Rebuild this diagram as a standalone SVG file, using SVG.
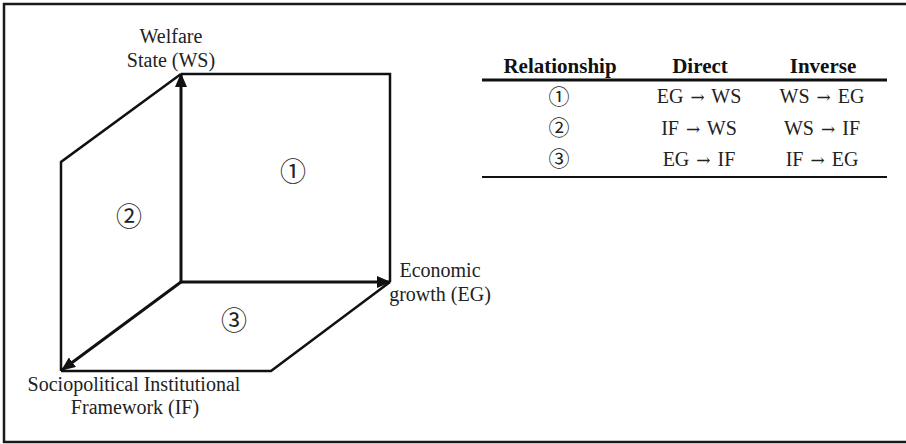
<svg xmlns="http://www.w3.org/2000/svg" width="906" height="444" viewBox="0 0 906 444">
  <defs>
    <marker id="head" viewBox="0 0 14 12" refX="13" refY="6" markerWidth="14" markerHeight="12" markerUnits="userSpaceOnUse" orient="auto">
      <path d="M0,0 L14,6 L0,12 Z" fill="#111"/>
    </marker>
    <style>
      .edge { fill: none; stroke: #111; stroke-width: 2.5; stroke-linejoin: miter; }
      .axis { fill: none; stroke: #111; stroke-width: 3; marker-end: url(#head); }
      text { font-family: "Liberation Serif", "DejaVu Serif", serif; fill: #222; }
      .lbl { font-size: 20px; }
      .num { font-family: "Noto Sans CJK JP", "DejaVu Sans", sans-serif; text-anchor: middle; }
      .hdr { font-size: 21px; font-weight: bold; fill: #111; text-anchor: middle; }
      .cell { font-size: 20px; text-anchor: middle; }
      .arr { font-family: "DejaVu Serif", serif; font-size: 17px; }
      .rule { stroke: #111; }
    </style>
  </defs>

  <rect width="906" height="444" fill="#fff"/>
  <!-- frame (open on the right) -->
  <path d="M910,4 H4 V442 H910" fill="none" stroke="#1a1a1a" stroke-width="2.5"/>

  <!-- cube faces -->
  <g id="faces">
    <!-- face 1: WS / EG plane -->
    <polyline class="edge" points="181,74 390,74 390,282"/>
    <!-- face 2: WS / IF plane -->
    <polyline class="edge" points="181,74 61,162 61,371"/>
    <!-- face 3: EG / IF plane -->
    <polyline class="edge" points="390,282 271,371 61,371"/>
  </g>

  <!-- axes from the origin -->
  <g id="connectors">
    <line class="axis" x1="181" y1="282" x2="181" y2="74"/>
    <line class="axis" x1="181" y1="282" x2="390" y2="282"/>
    <line class="axis" x1="181" y1="282" x2="62" y2="370"/>
  </g>

  <g id="node-ws">
    <text class="lbl" x="171" y="43" text-anchor="middle">Welfare</text>
    <text class="lbl" x="171" y="67" text-anchor="middle">State (WS)</text>
  </g>
  <g id="node-eg">
    <text class="lbl" x="440" y="277" text-anchor="middle">Economic</text>
    <text class="lbl" x="440" y="301" text-anchor="middle">growth (EG)</text>
  </g>
  <g id="node-if">
    <text class="lbl" x="134" y="391" text-anchor="middle">Sociopolitical Institutional</text>
    <text class="lbl" x="135" y="414" text-anchor="middle">Framework (IF)</text>
  </g>

  <g id="face-labels">
    <text class="num" x="293" y="181" font-size="26">①</text>
    <text class="num" x="129" y="226" font-size="26">②</text>
    <text class="num" x="234" y="330" font-size="26">③</text>
  </g>

  <!-- relationship table -->
  <g id="table">
    <text class="hdr" x="560" y="73">Relationship</text>
    <text class="hdr" x="700" y="73">Direct</text>
    <text class="hdr" x="823" y="73">Inverse</text>
    <line class="rule" x1="482" y1="80" x2="887" y2="80" stroke-width="3"/>

    <text class="num" x="559" y="104" font-size="21">①</text>
    <text class="cell" x="699" y="103">EG <tspan class="arr" dx="2">→</tspan><tspan dx="2"> WS</tspan></text>
    <text class="cell" x="822" y="103">WS <tspan class="arr" dx="2">→</tspan><tspan dx="2"> EG</tspan></text>

    <text class="num" x="559" y="135" font-size="21">②</text>
    <text class="cell" x="699" y="135">IF <tspan class="arr" dx="2">→</tspan><tspan dx="2"> WS</tspan></text>
    <text class="cell" x="822" y="135">WS <tspan class="arr" dx="2">→</tspan><tspan dx="2"> IF</tspan></text>

    <text class="num" x="559" y="166" font-size="21">③</text>
    <text class="cell" x="699" y="166">EG <tspan class="arr" dx="2">→</tspan><tspan dx="2"> IF</tspan></text>
    <text class="cell" x="822" y="166">IF <tspan class="arr" dx="2">→</tspan><tspan dx="2"> EG</tspan></text>

    <line class="rule" x1="482" y1="177" x2="887" y2="177" stroke-width="2"/>
  </g>
</svg>
